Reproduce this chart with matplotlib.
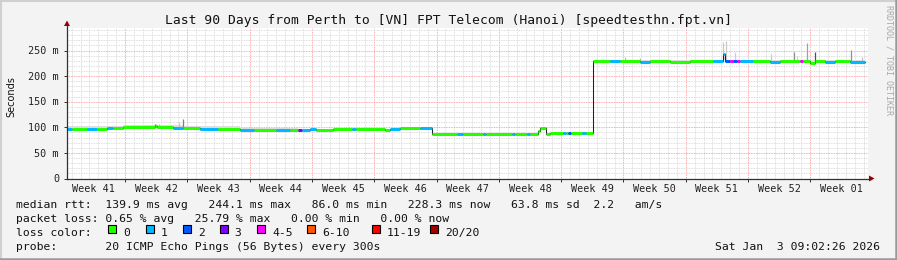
import numpy as np
import matplotlib
matplotlib.use('Agg')
import matplotlib.pyplot as plt
from matplotlib.patches import Rectangle, Polygon
from matplotlib.lines import Line2D
from matplotlib.transforms import ScaledTranslation, blended_transform_factory

W, H = 897, 260
MONO = 'DejaVu Sans Mono'

# loss colours (index = loss class)
loss_colors = ['#26ff00', '#00b8ff', '#0059ff', '#7e00ff',
               '#ff00ff', '#ff5500', '#ff0000', '#a10000']
loss_labels = ['0', '1', '2', '3', '4-5', '6-10', '11-19', '20/20']

# median rtt (ms) as steps: start day, value, loss class
med_start = [0.0, 0.6, 2.2, 3.4, 4.5, 5.2, 6.3, 9.9, 10.1, 11.9, 13.0, 14.9,
             17.0, 19.4, 21.0, 23.5, 25.0, 26.0, 26.4, 27.3, 28.0, 29.9, 32.0,
             32.5, 34.8, 35.7, 36.3, 37.4, 39.7, 41.0, 43.8, 44.5, 46.7, 47.1,
             50.0, 50.3, 51.7, 52.0, 52.9, 53.1, 53.8, 54.3, 55.7, 56.1, 56.3,
             56.6, 57.9, 58.3, 59.1, 61.0, 62.1, 64.4, 65.5, 67.8, 70.0, 72.6,
             73.7, 73.9, 74.5, 74.8, 75.3, 75.6, 77.1, 79.0, 80.1, 82.4, 82.7,
             83.5, 84.0, 85.2, 86.3, 88.0]
med_value = [97.5, 97.5, 96.5, 97.0, 98.5, 98.0, 100.5, 103.0, 100.0, 99.0,
             98.0, 97.0, 97.5, 94.5, 94.5, 94.0, 94.5, 95.0, 94.0, 97.0, 94.5,
             97.0, 97.0, 97.0, 96.0, 94.0, 96.5, 99.5, 99.5, 87.5, 87.5, 87.5,
             87.5, 87.5, 87.5, 87.5, 87.5, 87.5, 93.0, 99.0, 86.0, 89.5, 89.5,
             89.5, 89.5, 89.5, 89.0, 89.0, 229.5, 229.0, 229.5, 228.5, 229.0,
             228.5, 229.0, 229.0, 244.0, 229.0, 229.0, 229.0, 229.0, 229.0,
             229.0, 227.0, 229.0, 229.0, 229.0, 226.5, 229.0, 228.0, 229.0,
             228.3]
med_loss = [1, 0, 1, 0, 1, 0, 0, 0, 0, 1, 0, 1, 0, 1, 0, 1, 0, 3, 1, 1, 0, 0,
            1, 0, 0, 0, 1, 0, 1, 0, 1, 0, 1, 0, 1, 0, 1, 0, 0, 0, 0, 0, 1, 0,
            2, 0, 1, 0, 0, 1, 0, 1, 0, 0, 0, 1, 1, 2, 4, 2, 4, 1, 0, 1, 0, 4,
            0, 0, 0, 1, 0, 1]
med_end = 89.7

# light smoke band: start day, end day, upper rtt
band_start = [0.0, 6.3, 13.0, 19.4, 59.1]
band_end = [6.3, 13.0, 19.4, 26.0, 89.7]
band_top = [103, 105, 103, 99, 231.5]

# individual smoke spikes: day, upper rtt, shade
spike_day = [9.9, 10.3, 12.6, 13.0, 62.7, 64.4, 73.7, 74.1, 75.0, 79.1,
             81.7, 82.0, 83.1, 84.0, 88.1, 89.3]
spike_top = [107, 106, 110, 116, 238, 235, 266, 268, 247, 243,
             247, 240, 265, 247, 251, 237]
spike_shade = ['#606060', '#c0c0c0', '#c8c8c8', '#808080', '#c0c0c0',
               '#c0c0c0', '#c8c8c8', '#c8c8c8', '#d0d0d0', '#c8c8c8',
               '#909090', '#d0d0d0', '#a0a0a0', '#505050', '#909090',
               '#c0c0c0']

week_labels = ['Week 41', 'Week 42', 'Week 43', 'Week 44', 'Week 45',
               'Week 46', 'Week 47', 'Week 48', 'Week 49', 'Week 50',
               'Week 51', 'Week 52', 'Week 01']
first_week_start = 6.52  # day of first week boundary inside the graph
x_span = 90.0
y_top = 294.0

legend_rows = [
    'median rtt:  139.9 ms avg   244.1 ms max   86.0 ms min   228.3 ms now   63.8 ms sd  2.2   am/s',
    'packet loss: 0.65 % avg   25.79 % max   0.00 % min   0.00 % now',
    'loss color:',
    'probe:       20 ICMP Echo Pings (56 Bytes) every 300s',
]
stamp = 'Sat Jan  3 09:02:26 2026'


def fx(px):
    return px / W


def fy(py):
    return 1 - py / H


fig = plt.figure(figsize=(W / 100, H / 100), dpi=100, facecolor='#f3f3f3')

# 3d frame
fig.add_artist(Line2D([0, 1], [fy(0.5), fy(0.5)], color='#d0d0d0', lw=1.5))
fig.add_artist(Line2D([fx(0.5), fx(0.5)], [0, 1], color='#d0d0d0', lw=1.5))
fig.add_artist(Line2D([0, 1], [fy(259), fy(259)], color='#9a9a9a', lw=1.8))
fig.add_artist(Line2D([fx(896), fx(896)], [0, 1], color='#9a9a9a', lw=1.8))

ax = fig.add_axes([fx(67), fy(178.5), fx(868) - fx(67), fy(28) - fy(178.5)])
ax.set_facecolor('white')
ax.set_xlim(0, x_span)
ax.set_ylim(0, y_top)
for s in ax.spines.values():
    s.set_visible(False)

week_bounds = np.arange(first_week_start, x_span, 7)
day_lines = np.arange(first_week_start % 1, x_span, 1)
ax.set_xticks(week_bounds)
ax.set_xticks(day_lines, minor=True)
ax.set_yticks(np.arange(0, 251, 50))
ax.set_yticks(np.arange(0, y_top, 10), minor=True)
ax.tick_params(which='both', labelbottom=False, labelleft=False)
ax.tick_params(which='major', length=2, width=0.7, direction='out', color='#333333')
ax.tick_params(which='minor', length=0)
ax.grid(which='minor', color='#d4d4d4', lw=0.6, ls=(0, (1, 1)))
ax.grid(which='major', color='#ff8c8c', lw=0.6, ls=(0, (1, 1)))
ax.set_axisbelow(True)

# smoke
starts = np.array(med_start)
vals = np.array(med_value)
ends = np.append(starts[1:], med_end)
for b0, b1, bt in zip(band_start, band_end, band_top):
    m = (starts >= b0) & (starts < b1)
    for s0, s1, v in zip(starts[m], ends[m], vals[m]):
        ax.fill_between([s0, s1], v, bt, color='#dedede', lw=0, step='post')
for d, t, c in zip(spike_day, spike_top, spike_shade):
    base = vals[np.searchsorted(starts, d, side='right') - 1]
    ax.vlines(d, base, t, colors=c, lw=0.9)

# median: thin black step, then loss-coloured bands
ax.step(np.append(starts, med_end), np.append(vals, vals[-1]), where='post',
        color='#202020', lw=0.75)
ax.hlines(vals, starts, ends, colors=[loss_colors[i] for i in med_loss],
          lw=2.2, capstyle='butt')

# axis lines with arrows
axis_col = '#303030'
fig.add_artist(Line2D([fx(67), fx(67)], [fy(178.5), fy(24)], color=axis_col, lw=0.9))
fig.add_artist(Line2D([fx(67), fx(871)], [fy(178.5), fy(178.5)], color=axis_col, lw=0.9))
fig.add_artist(Polygon([[fx(64), fy(26)], [fx(70), fy(26)], [fx(67), fy(20.5)]],
                       closed=True, color='#9b0000', lw=0))
fig.add_artist(Polygon([[fx(869), fy(175.5)], [fx(869), fy(181.5)], [fx(874.5), fy(178.5)]],
                       closed=True, color='#9b0000', lw=0))

# tick labels
off = ScaledTranslation(0, -3.6 / 100, fig.dpi_scale_trans)
ytrans = blended_transform_factory(fig.transFigure, ax.transData) + off
for v in np.arange(0, 251, 50):
    lab = '0' if v == 0 else f'{v} m'
    fig.text(fx(59), v, lab, transform=ytrans, ha='right', va='baseline',
             fontsize=7.3, family=MONO, color='#222222')
xtrans = blended_transform_factory(ax.transData, fig.transFigure)
for i, lab in enumerate(week_labels):
    xc = first_week_start - 3.5 + 7 * i
    fig.text(xc, fy(192), lab, transform=xtrans, fontsize=7.3, family=MONO,
             ha='center', va='baseline', color='#222222')

# titles
fig.text(fx(448), fy(24), 'Last 90 Days from Perth to [VN] FPT Telecom (Hanoi) [speedtesthn.fpt.vn]',
         fontsize=9.4, family=MONO, ha='center', va='baseline', color='#111111')
fig.text(fx(11), fy(97), 'Seconds', fontsize=7, family='DejaVu Sans', rotation=90,
         ha='center', va='center', color='#111111')
fig.text(fx(889), fy(5), 'RRDTOOL / TOBI OETIKER', fontsize=6, family=MONO,
         rotation=270, ha='center', va='top', color='#a8a8a8')

# legend
leg = dict(fontsize=8.2, family=MONO, va='baseline', color='#111111')
for yb, s in zip([208, 222, 236, 250], legend_rows):
    fig.text(fx(16), fy(yb), s, **leg)

box_x = [108, 146, 183, 219.5, 257, 307, 372, 430]
for bx, col, lab in zip(box_x, loss_colors, loss_labels):
    fig.add_artist(Rectangle((fx(bx), fy(233)), 8 / W, 8 / H, facecolor=col,
                             edgecolor='black', lw=0.8))
    fig.text(fx(bx + 15), fy(236), lab, **leg)

fig.text(fx(880), fy(250), stamp, ha='right', **leg)

fig.savefig('out.png', dpi=100, facecolor=fig.get_facecolor())
